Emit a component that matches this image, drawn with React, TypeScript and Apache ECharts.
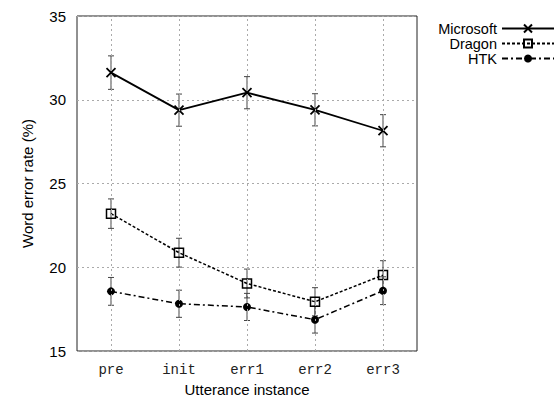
import React, { useEffect, useRef } from "react";
import * as echarts from "echarts";

const categories = ["pre", "init", "err1", "err2", "err3"];
const microsoft = [31.62, 29.38, 30.42, 29.4, 28.15];
const microsoftErr = [1.0, 0.96, 0.96, 0.96, 0.96];
const dragon = [23.2, 20.87, 19.03, 17.94, 19.53];
const dragonErr = [0.88, 0.86, 0.86, 0.84, 0.86];
const htk = [18.56, 17.82, 17.63, 16.87, 18.6];
const htkErr = [0.83, 0.81, 0.81, 0.8, 0.83];
const yTicks = [15, 20, 25, 30, 35];

const SANS = "'Liberation Sans', Arial, Helvetica, sans-serif";
const MONO = "'Liberation Mono', 'Courier New', monospace";

const crossPath = "path://M0,0L10,10M10,0L0,10";

function errData(vals: number[], errs: number[]) {
  return vals.map((v, i) => [i, v - errs[i], v + errs[i]]);
}

function errorSeries(name: string, vals: number[], errs: number[], withGrid: boolean) {
  const s: any = {
    name,
    type: "custom",
    data: errData(vals, errs),
    encode: { x: 0, y: [1, 2] },
    z: 1,
    renderItem: (params: any, api: any) => {
      const x = api.value(0);
      const lo = api.coord([x, api.value(1)]);
      const hi = api.coord([x, api.value(2)]);
      const cap = 3;
      const style = { stroke: "#444", lineWidth: 1 };
      return {
        type: "group",
        children: [
          { type: "line", shape: { x1: lo[0], y1: lo[1], x2: hi[0], y2: hi[1] }, style },
          { type: "line", shape: { x1: lo[0] - cap, y1: lo[1], x2: lo[0] + cap, y2: lo[1] }, style },
          { type: "line", shape: { x1: hi[0] - cap, y1: hi[1], x2: hi[0] + cap, y2: hi[1] }, style },
        ],
      };
    },
  };
  if (withGrid) {
    s.markLine = {
      silent: true,
      symbol: ["none", "none"],
      label: { show: false },
      lineStyle: { type: [2, 3], color: "#aaa", width: 1 },
      data: categories.map((c) => ({ xAxis: c })),
    };
  }
  return s;
}

export default function App() {
  const ref = useRef<HTMLDivElement>(null);
  useEffect(() => {
    if (!ref.current) return;
    const chart = echarts.init(ref.current, undefined, { renderer: "svg" });
    chart.setOption({
      animation: false,
      backgroundColor: "#fff",
      grid: {
        left: 77,
        top: 16,
        width: 340,
        height: 335,
        show: true,
        borderColor: "#222",
        borderWidth: 1,
        backgroundColor: "transparent",
        containLabel: false,
        outerBoundsMode: "none",
      },
      legend: {
        orient: "vertical",
        right: 2,
        top: 21,
        padding: 0,
        align: "right",
        itemWidth: 52,
        itemHeight: 10,
        itemGap: 0,
        data: ["Microsoft", "Dragon", "HTK"],
        textStyle: { fontFamily: SANS, fontSize: 14.5, color: "#000", lineHeight: 13.5 },
        selectedMode: false,
      },
      xAxis: {
        type: "category",
        data: categories,
        boundaryGap: true,
        name: "Utterance instance",
        nameLocation: "middle",
        nameGap: 29,
        nameTextStyle: { fontFamily: SANS, fontSize: 15, color: "#000" },
        axisLine: { show: false },
        axisTick: { show: false },
        axisLabel: { fontFamily: MONO, fontSize: 14, color: "#222", margin: 12 },
        splitLine: { show: false },
      },
      yAxis: {
        type: "value",
        min: yTicks[0],
        max: yTicks[yTicks.length - 1],
        interval: 5,
        name: "Word error rate (%)",
        nameLocation: "middle",
        nameGap: 42,
        nameTextStyle: { fontFamily: SANS, fontSize: 15, color: "#000" },
        axisLine: { show: false },
        axisTick: { show: false },
        axisLabel: { fontFamily: SANS, fontSize: 15, color: "#000", margin: 11 },
        splitLine: { show: true, lineStyle: { type: [2, 3], color: "#aaa", width: 1 } },
      },
      series: [
        errorSeries("msErr", microsoft, microsoftErr, true),
        errorSeries("dragonErr", dragon, dragonErr, false),
        errorSeries("htkErr", htk, htkErr, false),
        {
          name: "Microsoft",
          type: "line",
          data: microsoft,
          z: 3,
          symbol: crossPath,
          symbolSize: 9,
          showAllSymbol: true,
          itemStyle: { color: "none", borderColor: "#000", borderWidth: 1.8 },
          lineStyle: { color: "#000", width: 1.8, type: "solid" },
          emphasis: { disabled: true },
        },
        {
          name: "Dragon",
          type: "line",
          data: dragon,
          z: 3,
          symbol: "rect",
          symbolSize: 9,
          itemStyle: { color: "none", borderColor: "#000", borderWidth: 1.5 },
          lineStyle: { color: "#000", width: 1.5, type: [3, 2] },
          emphasis: { disabled: true },
        },
        {
          name: "HTK",
          type: "line",
          data: htk,
          z: 3,
          symbol: "circle",
          symbolSize: 8,
          itemStyle: { color: "#000", borderColor: "#000", borderWidth: 0 },
          lineStyle: { color: "#000", width: 1.5, type: [6, 3, 2, 3] },
          emphasis: { disabled: true },
        },
      ],
    });
    return () => chart.dispose();
  }, []);
  return (
    <div
      ref={ref}
      style={{ position: "absolute", left: 0, top: 0, width: 557, height: 398 }}
    />
  );
}
